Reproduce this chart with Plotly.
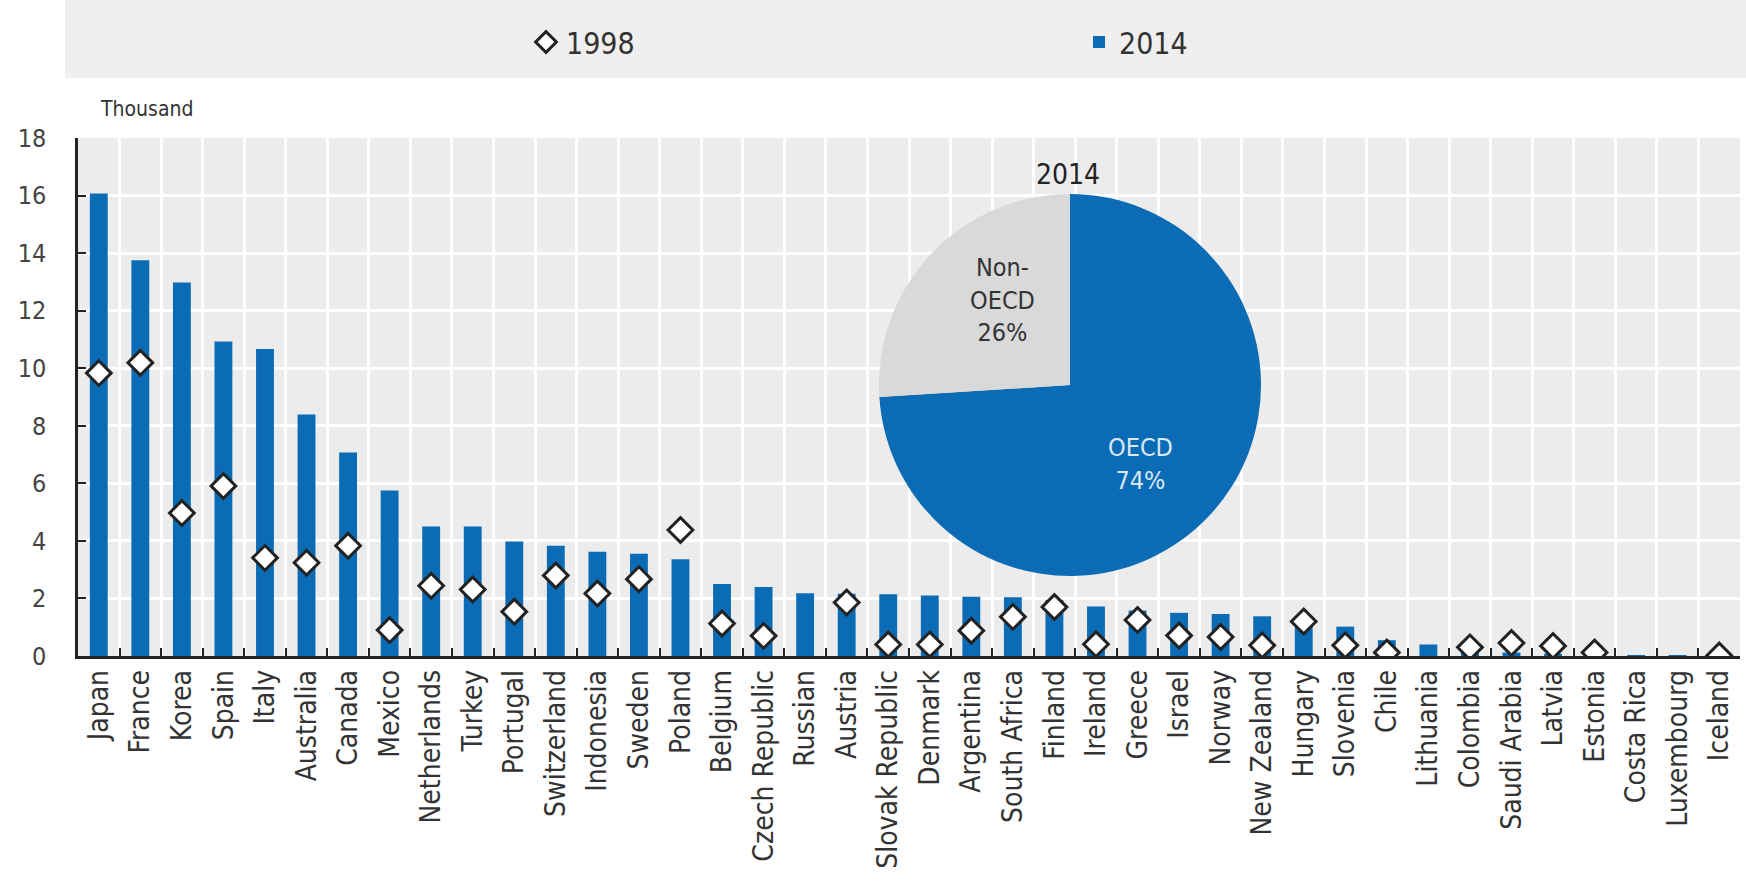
import plotly.graph_objects as go

countries = ["Japan", "France", "Korea", "Spain", "Italy", "Australia", "Canada", "Mexico",
             "Netherlands", "Turkey", "Portugal", "Switzerland", "Indonesia", "Sweden", "Poland",
             "Belgium", "Czech Republic", "Russian", "Austria", "Slovak Republic", "Denmark",
             "Argentina", "South Africa", "Finland", "Ireland", "Greece", "Israel", "Norway",
             "New Zealand", "Hungary", "Slovenia", "Chile", "Lithuania", "Colombia",
             "Saudi Arabia", "Latvia", "Estonia", "Costa Rica", "Luxembourg", "Iceland"]

values_2014 = [16.07, 13.75, 12.98, 10.93, 10.67, 8.39, 7.07, 5.75,
               4.50, 4.50, 3.98, 3.83, 3.62, 3.55, 3.36,
               2.50, 2.40, 2.18, 2.16, 2.15, 2.10,
               2.06, 2.04, 1.95, 1.72, 1.58, 1.50, 1.46,
               1.38, 1.20, 1.02, 0.55, 0.40, 0.18,
               0.12, 0.08, 0.05, 0.03, 0.02, 0.01]

values_1998 = [9.83, 10.19, 4.97, 5.91, 3.41, 3.24, 3.83, 0.90,
               2.44, 2.31, 1.54, 2.80, 2.17, 2.67, 4.38,
               1.13, 0.70, None, 1.86, 0.40, 0.40,
               0.88, 1.36, 1.70, 0.41, 1.25, 0.71, 0.66,
               0.37, 1.20, 0.37, 0.12, None, 0.30,
               0.45, 0.35, 0.12, None, None, 0.02]

pie_labels = ["OECD", "Non-OECD"]
pie_values = [74, 26]
pie_text = ["OECD<br>74%", "Non-<br>OECD<br>26%"]

y_ticks = [0, 2, 4, 6, 8, 10, 12, 14, 16, 18]

BLUE = "#0b6cb5"
FONT = "Liberation Sans Narrow, Arial Narrow, DejaVu Sans Condensed, sans-serif"

W, H = 1746, 896
ML, MR, MT, MB = 78, 6, 138, 240
PW = W - ML - MR
PH = H - MT - MB


def px_x(x):
    return (x - ML) / PW


def px_y(y):
    return (H - MB - y) / PH


fig = go.Figure()

fig.add_trace(go.Scatter(
    x=countries, y=values_1998, mode="markers", name="1998",
    marker=dict(symbol="diamond", size=19, color="white",
                line=dict(color="#222222", width=3)),
))

fig.add_trace(go.Bar(
    x=countries, y=values_2014, name="2014",
    marker=dict(color=BLUE, line=dict(width=0)), width=0.43,
))

fig.add_trace(go.Pie(
    labels=pie_labels, values=pie_values, sort=False, direction="clockwise",
    rotation=0, marker=dict(colors=[BLUE, "#d9d9d9"], line=dict(width=0)),
    textinfo="none", showlegend=False, hoverinfo="label+percent",
    domain=dict(x=[px_x(879), px_x(1261)], y=[px_y(576), px_y(194)]),
))

annotations = [
    dict(text="Thousand", x=px_x(98), y=px_y(109), xref="paper", yref="paper",
         xanchor="left", yanchor="middle", showarrow=False,
         font=dict(size=21, color="#333333", family=FONT)),
    dict(text="2014", x=px_x(1068), y=px_y(174), xref="paper", yref="paper",
         xanchor="center", yanchor="middle", showarrow=False,
         font=dict(size=28, color="#222222", family=FONT)),
    dict(text=pie_text[1], x=px_x(1002), y=px_y(300), xref="paper", yref="paper",
         xanchor="center", yanchor="middle", showarrow=False,
         font=dict(size=25, color="#333333", family=FONT)),
    dict(text=pie_text[0], x=px_x(1140), y=px_y(464), xref="paper", yref="paper",
         xanchor="center", yanchor="middle", showarrow=False,
         font=dict(size=25, color="#d8e8f6", family=FONT)),
]

shapes = [
    dict(type="rect", xref="paper", yref="paper", x0=px_x(65), x1=px_x(1746),
         y0=px_y(78), y1=px_y(0), fillcolor="#efefef", line=dict(width=0), layer="below"),
]

fig.update_layout(
    width=W, height=H,
    margin=dict(l=ML, r=MR, t=MT, b=MB, autoexpand=False),
    paper_bgcolor="white", plot_bgcolor="#ececec",
    font=dict(family=FONT, size=18, color="#333333"),
    showlegend=True,
    legend=dict(orientation="h", x=px_x(526), xanchor="left", y=px_y(42), yanchor="middle",
                bgcolor="rgba(0,0,0,0)", entrywidth=508, entrywidthmode="pixels",
                font=dict(size=30, family=FONT, color="#333333"), traceorder="normal"),
    xaxis=dict(type="category", tickson="boundaries", ticks="inside", ticklen=8,
               tickcolor="#222222", tickwidth=2, showgrid=True, gridcolor="white", gridwidth=3,
               showline=True, linecolor="#222222", linewidth=2.5, tickangle=-90,
               tickfont=dict(size=28, family=FONT, color="#333333"), range=[-0.5, 39.5],
               zeroline=False),
    yaxis=dict(range=[0, 18], tickvals=y_ticks, ticks="inside", ticklen=8, tickcolor="#222222",
               tickwidth=2, showgrid=True, gridcolor="white", gridwidth=3, showline=True,
               linecolor="#222222", linewidth=2.5, zeroline=False, ticklabelstandoff=24,
               tickfont=dict(size=25, family=FONT, color="#444444")),
    annotations=annotations,
    shapes=shapes,
)

fig.write_html("out.html")
